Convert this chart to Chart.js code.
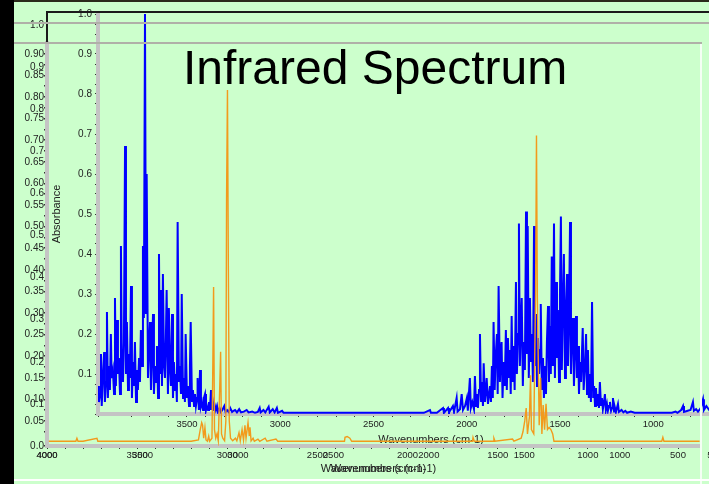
<!doctype html>
<html lang="en">
<head>
<meta charset="utf-8">
<title>Infrared Spectrum</title>
<style>
  * { margin: 0; padding: 0; }
  body { background: #ccffcc; overflow: hidden; }
  .page {
    position: relative;
    width: 709px;
    height: 484px;
    overflow: hidden;
    background: #ccffcc;
    font-family: "Liberation Sans", Arial, sans-serif;
  }
  canvas { position: absolute; left: 0; top: 0; }
  .bar { position: absolute; }
  .title {
    position: absolute;
    left: 183px;
    top: 44px;
    font-size: 48px;
    line-height: 48px;
    color: #000;
    white-space: nowrap;
  }
</style>
</head>
<body>
<div class="page">
  <canvas id="inner" width="780" height="484"></canvas>
  <canvas id="outerB" width="740" height="484"></canvas>
  <canvas id="outerA" width="709" height="484"></canvas>

  <div class="bar" style="left:0;top:0;width:709px;height:2px;background:#2a2a1a"></div>
  <div class="bar" style="left:46px;top:11px;width:663px;height:2px;background:#1a1a1a"></div>
  <div class="bar" style="left:46px;top:11px;width:2px;height:33px;background:#1a1a1a"></div>
  <div class="bar" style="left:14px;top:22px;width:695px;height:2px;background:#b0b0a8"></div>
  <div class="bar" style="left:14px;top:42px;width:688px;height:2px;background:#b0b0a8"></div>
  <div class="bar" style="left:700px;top:44px;width:2px;height:440px;background:#f4fff4"></div>
  <div class="bar" style="left:14px;top:479px;width:695px;height:2px;background:#ffffff"></div>
  <div class="bar" style="left:0;top:0;width:14px;height:484px;background:#000"></div>

  <div class="title">Infrared Spectrum</div>
</div>

<script src="https://cdn.jsdelivr.net/npm/chart.js"></script>
<script>
// tick labels
const innerXTicks = [3500, 3000, 2500, 2000, 1500, 1000, 500];
const innerYTicks = [0.1, 0.2, 0.3, 0.4, 0.5, 0.6, 0.7, 0.8, 0.9, 1.0];
const outerXTicks = [4000, 3500, 3000, 2500, 2000, 1500, 1000, 500];
const outerYTicksP = [0.05, 0.10, 0.15, 0.20, 0.25, 0.30, 0.35, 0.40, 0.45, 0.50,
                      0.55, 0.60, 0.65, 0.70, 0.75, 0.80, 0.85, 0.90];
const outerYTicksQ = [0.0, 0.1, 0.2, 0.3, 0.4, 0.5, 0.6, 0.7, 0.8, 0.9, 1.0];

// blue spectrum: [wavenumber, absorbance]
const blueSpectrum = [
  [3985,0.01],[3977,0.07],[3972,0.03],[3966,0.05],[3961,0.15],[3957,0.02],[3950,0.10],[3944,0.155],
  [3940,0.03],[3934,0.08],[3929,0.255],[3924,0.04],[3918,0.12],[3913,0.06],[3908,0.20],[3904,0.09],
  [3897,0.11],[3891,0.05],[3886,0.29],[3881,0.07],[3875,0.235],[3870,0.10],[3865,0.14],[3859,0.05],
  [3854,0.42],[3849,0.12],[3843,0.08],[3838,0.18],[3832,0.67],[3827,0.10],[3822,0.23],[3816,0.06],
  [3811,0.15],[3806,0.09],[3800,0.32],[3795,0.04],[3790,0.13],[3784,0.07],[3779,0.18],[3773,0.03],
  [3768,0.11],[3763,0.06],[3757,0.14],[3752,0.08],[3747,0.21],[3741,0.12],[3736,0.42],[3731,0.24],
  [3725,1.0],[3720,0.25],[3716,0.60],[3709,0.09],[3704,0.16],[3698,0.23],[3693,0.06],[3688,0.14],
  [3682,0.25],[3677,0.05],[3672,0.12],[3666,0.08],[3661,0.17],[3655,0.04],[3650,0.40],[3645,0.10],
  [3639,0.31],[3634,0.07],[3629,0.35],[3623,0.12],[3618,0.09],[3613,0.19],[3609,0.31],[3602,0.05],
  [3597,0.265],[3591,0.11],[3586,0.07],[3580,0.25],[3575,0.04],[3570,0.13],[3564,0.06],[3559,0.10],
  [3554,0.03],[3550,0.48],[3543,0.08],[3538,0.12],[3532,0.05],[3528,0.30],[3521,0.04],[3516,0.09],
  [3511,0.03],[3507,0.20],[3500,0.04],[3495,0.07],[3489,0.02],[3484,0.12],[3480,0.23],[3473,0.03],
  [3468,0.06],[3462,0.02],[3457,0.05],[3452,0.02],[3446,0.04],[3443,0.09],[3436,0.01],[3430,0.11],
  [3425,0.02],[3420,0.03],[3414,0.01],[3409,0.04],[3403,0.05],[3398,0.01],[3393,0.02],[3387,0.01],
  [3382,0.03],[3377,0.01],[3371,0.06],[3366,0.01],[3361,0.03],[3355,0.01],[3350,0.02],[3345,0.01],
  [3339,0.02],[3334,0.005],[3325,0.015],[3318,0.005],[3310,0.01],[3300,0.02],[3293,0.005],[3285,0.01],
  [3276,0.005],[3268,0.015],[3258,0.005],[3250,0.008],[3242,0.01],[3232,0.004],[3220,0.012],[3210,0.004],
  [3195,0.006],[3180,0.01],[3170,0.004],[3150,0.006],[3135,0.003],[3120,0.005],[3110,0.015],[3105,0.004],
  [3090,0.01],[3080,0.004],[3062,0.018],[3056,0.004],[3040,0.012],[3030,0.004],[3018,0.015],[3012,0.003],
  [2990,0.008],[2982,0.003],[2960,0.003],[2700,0.003],[2500,0.003],[2230,0.003],
  [2197,0.01],[2192,0.003],[2160,0.003],[2127,0.015],[2122,0.003],[2100,0.015],[2095,0.004],[2074,0.02],
  [2068,0.005],[2054,0.04],[2049,0.006],[2036,0.012],[2027,0.05],[2020,0.01],[2009,0.02],[1999,0.04],
  [1994,0.008],[1983,0.09],[1978,0.015],[1970,0.03],[1961,0.012],[1956,0.095],[1950,0.02],[1945,0.05],
  [1940,0.015],[1934,0.06],[1929,0.20],[1923,0.03],[1918,0.08],[1913,0.02],[1909,0.127],[1902,0.03],
  [1897,0.06],[1893,0.09],[1886,0.025],[1880,0.05],[1875,0.07],[1870,0.03],[1865,0.12],[1860,0.04],
  [1856,0.23],[1850,0.06],[1845,0.14],[1838,0.20],[1834,0.05],[1829,0.32],[1822,0.08],[1818,0.15],
  [1813,0.18],[1808,0.04],[1802,0.13],[1796,0.07],[1790,0.21],[1785,0.06],[1779,0.19],[1774,0.09],
  [1768,0.16],[1764,0.05],[1759,0.245],[1754,0.08],[1748,0.17],[1743,0.06],[1736,0.33],[1731,0.10],
  [1725,0.20],[1720,0.476],[1715,0.12],[1710,0.22],[1705,0.29],[1699,0.07],[1694,0.18],[1688,0.11],
  [1682,0.506],[1677,0.15],[1673,0.47],[1667,0.09],[1661,0.29],[1656,0.13],[1650,0.20],[1645,0.08],
  [1639,0.47],[1634,0.12],[1628,0.25],[1623,0.07],[1618,0.19],[1612,0.10],[1607,0.16],[1603,0.275],
  [1597,0.06],[1591,0.14],[1586,0.04],[1580,0.12],[1575,0.05],[1570,0.18],[1564,0.27],[1559,0.08],
  [1554,0.22],[1549,0.10],[1544,0.394],[1538,0.12],[1532,0.476],[1527,0.09],[1521,0.33],[1516,0.14],
  [1511,0.26],[1505,0.08],[1500,0.30],[1495,0.494],[1490,0.11],[1484,0.28],[1479,0.40],[1473,0.09],
  [1468,0.25],[1462,0.35],[1457,0.12],[1452,0.22],[1446,0.48],[1441,0.10],[1436,0.19],[1430,0.24],
  [1425,0.07],[1420,0.16],[1414,0.245],[1409,0.09],[1403,0.17],[1398,0.05],[1393,0.13],[1387,0.08],
  [1378,0.215],[1373,0.06],[1366,0.12],[1360,0.20],[1355,0.05],[1350,0.16],[1345,0.04],[1339,0.10],
  [1334,0.03],[1328,0.28],[1322,0.04],[1317,0.07],[1312,0.02],[1307,0.065],[1302,0.02],[1296,0.05],
  [1291,0.015],[1286,0.08],[1280,0.02],[1275,0.04],[1270,0.012],[1264,0.03],[1259,0.05],[1254,0.01],
  [1248,0.025],[1243,0.008],[1237,0.02],[1232,0.03],[1226,0.008],[1221,0.015],[1216,0.04],[1210,0.006],
  [1205,0.015],[1200,0.005],[1189,0.025],[1184,0.005],[1170,0.01],[1160,0.004],[1150,0.008],[1140,0.003],
  [1120,0.006],[1100,0.003],[1050,0.003],[1000,0.003],[950,0.003],[900,0.003],[880,0.006],[870,0.003],
  [850,0.01],[840,0.02],[835,0.005],[815,0.008],[800,0.01],[787,0.03],[782,0.008],[770,0.012],
  [760,0.006],[745,0.015],[733,0.037],[728,0.01],[715,0.02],[700,0.01],[680,0.015],[660,0.01],
  [640,0.02],[620,0.008],[600,0.012],[560,0.01],[520,0.008],[480,0.01],[440,0.008],[400,0.01]
];

// orange spectrum: [wavenumber, absorbance]
const orangeSpectrum = [
  [3990,0.003],[3840,0.003],[3834,0.01],[3828,0.003],[3800,0.003],[3723,0.01],[3718,0.003],
  [3300,0.003],[3200,0.003],[3160,0.006],[3150,0.03],[3142,0.046],[3137,0.04],[3131,0.01],
  [3124,0.035],[3118,0.006],[3110,0.003],[3103,0.015],[3098,0.003],[3085,0.01],[3080,0.19],
  [3076,0.36],[3071,0.03],[3064,0.01],[3057,0.02],[3050,0.004],[3042,0.126],[3037,0.21],
  [3032,0.02],[3025,0.01],[3015,0.004],[3008,0.05],[3004,0.566],[2999,0.816],[2994,0.40],
  [2989,0.05],[2982,0.01],[2970,0.004],[2955,0.01],[2947,0.004],[2935,0.023],[2928,0.004],
  [2918,0.03],[2910,0.006],[2902,0.04],[2896,0.01],[2885,0.046],[2878,0.015],[2874,0.035],
  [2868,0.004],[2857,0.01],[2850,0.003],[2830,0.008],[2820,0.003],[2790,0.01],[2780,0.003],
  [2730,0.008],[2720,0.003],[2600,0.003],[2350,0.003],[2347,0.012],[2335,0.014],[2320,0.01],
  [2310,0.003],[2000,0.003],[1900,0.003],[1640,0.003],[1637,0.012],[1630,0.003],[1525,0.003],
  [1521,0.01],[1515,0.003],[1418,0.008],[1410,0.003],[1370,0.01],[1360,0.025],[1350,0.05],
  [1342,0.08],[1335,0.02],[1324,0.06],[1318,0.156],[1313,0.03],[1300,0.02],[1290,0.35],
  [1285,0.711],[1280,0.33],[1270,0.04],[1262,0.15],[1255,0.02],[1248,0.087],[1240,0.03],
  [1232,0.09],[1224,0.03],[1215,0.035],[1205,0.03],[1195,0.02],[1188,0.003],[1000,0.003],
  [590,0.003],[584,0.012],[578,0.003],[380,0.003]
];

Chart.defaults.font.family = '"Liberation Sans", Arial, sans-serif';
Chart.defaults.color = '#222';

function inList(list, v) {
  return list.some(t => Math.abs(t - v) < 1e-6);
}

const common = {
  responsive: false,
  animation: false,
  devicePixelRatio: 1,
  plugins: { legend: { display: false }, tooltip: { enabled: false } }
};

// inner chart (blue)
const innerChart = new Chart(document.getElementById('inner'), {
  type: 'line',
  data: {
    datasets: [{
      data: blueSpectrum.map(p => ({ x: p[0], y: p[1] })),
      borderColor: '#0000ff',
      borderWidth: 2,
      pointRadius: 0,
      tension: 0
    }]
  },
  options: {
    ...common,
    layout: { padding: { left: 50, top: 14, right: 16, bottom: 37 } },
    scales: {
      x: {
        type: 'linear', reverse: true, min: 406, max: 3977,
        afterFit: s => { s.height = 33; },
        border: { color: '#c4c4c4', width: 4 },
        grid: { drawOnChartArea: false, tickLength: 3, tickColor: '#333' },
        ticks: {
          stepSize: 100, autoSkip: false, maxRotation: 0, padding: 2,
          font: { size: 9.5 },
          callback: v => inList(innerXTicks, v) ? String(v) : ''
        },
        title: { display: true, text: 'Wavenumbers (cm-1)', font: { size: 11 }, padding: 0 }
      },
      y: {
        type: 'linear', min: 0, max: 1.0,
        afterFit: s => { s.width = 48; },
        border: { color: '#c4c4c4', width: 4 },
        grid: { drawOnChartArea: false, tickLength: 3, tickColor: '#333' },
        ticks: {
          stepSize: 0.025, autoSkip: false, padding: 3,
          font: { size: 10 },
          callback: v => inList(innerYTicks, v) ? v.toFixed(1) : ''
        },
        title: { display: true, text: 'Absorbance', font: { size: 11 }, padding: 0 }
      }
    }
  }
});

// second set of outer labels (overlaid, slightly different scale)
const outerB = new Chart(document.getElementById('outerB'), {
  type: 'scatter',
  data: { datasets: [] },
  options: {
    ...common,
    layout: { padding: { left: 0, top: 25, right: 20, bottom: 8 } },
    scales: {
      x: {
        type: 'linear', reverse: true, min: 475, max: 4000,
        afterBuildTicks: s => { s.ticks = outerXTicks.map(v => ({ value: v })); },
        afterFit: s => { s.height = 30; },
        border: { display: false },
        grid: { display: false, drawTicks: false },
        ticks: {
          autoSkip: false, maxRotation: 0, minRotation: 0, padding: 4,
          font: { size: 9.5 },
          callback: v => String(v)
        },
        title: { display: true, text: 'Wavenumbers (cm-1)', font: { size: 11 }, padding: 0 }
      },
      y: {
        type: 'linear', min: 0, max: 1.0,
        afterBuildTicks: s => { s.ticks = outerYTicksQ.map(v => ({ value: v })); },
        afterFit: s => { s.width = 47; },
        border: { display: false },
        grid: { display: false, drawTicks: false },
        ticks: {
          autoSkip: false, padding: 3,
          font: { size: 10 },
          callback: v => v.toFixed(1)
        }
      }
    }
  }
});

// outer chart (orange)
const outerA = new Chart(document.getElementById('outerA'), {
  type: 'line',
  data: {
    datasets: [{
      data: orangeSpectrum.map(p => ({ x: p[0], y: p[1] })),
      borderColor: '#f29a1c',
      borderWidth: 1.4,
      pointRadius: 0,
      tension: 0
    }]
  },
  options: {
    ...common,
    layout: { padding: { left: 0, top: 43, right: 9, bottom: 8 } },
    scales: {
      x: {
        type: 'linear', reverse: true, min: 378, max: 4000,
        afterFit: s => { s.height = 30; },
        border: { color: '#c4c4c4', width: 4 },
        grid: { drawOnChartArea: false, tickLength: 3, tickColor: '#333' },
        ticks: {
          stepSize: 100, autoSkip: false, maxRotation: 0, padding: 1,
          font: { size: 9.5 },
          callback: v => inList(outerXTicks, v) ? String(v) : ''
        },
        title: { display: true, text: 'Wavenumbers (cm-1)', font: { size: 11 }, padding: 0 }
      },
      y: {
        type: 'linear', min: -0.008, max: 0.925,
        afterFit: s => { s.width = 47; },
        border: { color: '#c4c4c4', width: 4 },
        grid: {
          drawOnChartArea: true,
          color: ctx => (ctx.tick && Math.abs(ctx.tick.value) < 1e-9) ? '#e0603a' : 'rgba(0,0,0,0)',
          lineWidth: 1.5,
          tickLength: 3,
          tickColor: '#333'
        },
        ticks: {
          stepSize: 0.025, autoSkip: false, padding: 0,
          font: { size: 10 },
          callback: v => inList(outerYTicksP, v) ? v.toFixed(2) : ''
        }
      }
    }
  }
});
</script>
</body>
</html>
